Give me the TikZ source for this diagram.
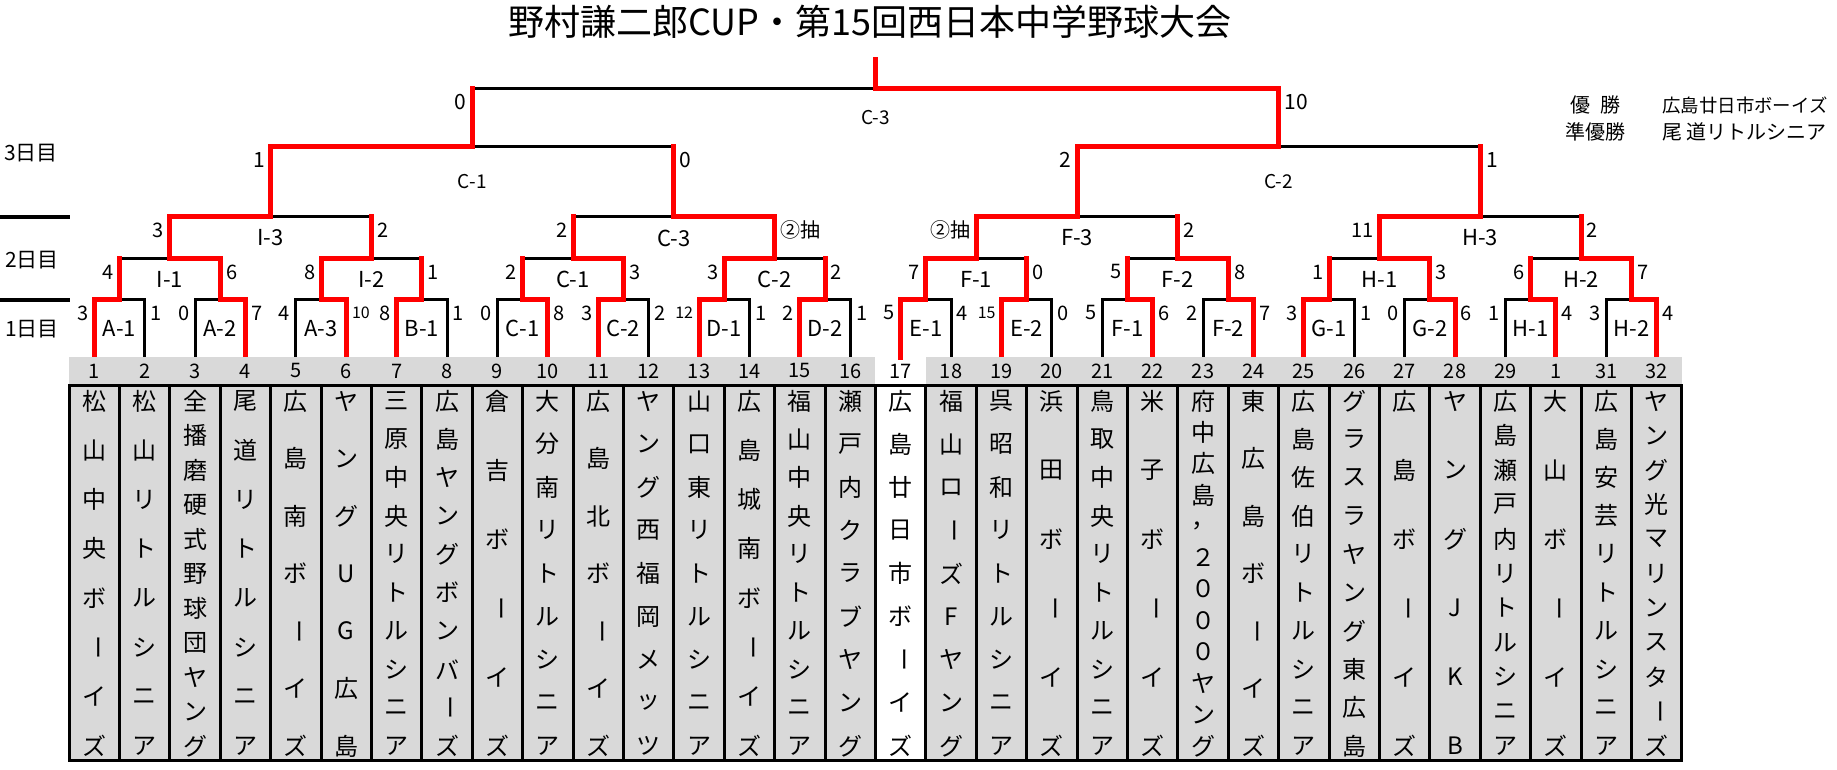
\documentclass[tikz,border=0pt]{standalone}
\usepackage{fontspec}
\setmainfont{Noto Sans CJK JP}
\usepackage{graphicx}
\definecolor{cell}{HTML}{D9D9D9}
\tikzset{font=\fontsize{10}{11}\selectfont}
\tikzset{every node/.append style={inner sep=0pt}}
\tikzset{won/.style={draw=red, line width=2.5pt, line cap=rect},
  lost/.style={draw=black, line width=1.5pt, line cap=rect},
  lsc/.style={anchor=east, shift={(-5.5,13)}},
  rsc/.style={anchor=west, shift={(5.5,13)}},
  tag/.style={font=\fontsize{11}{12}\selectfont},
  kana/.style={font=\fontsize{12}{12}\selectfont},
  num/.style={font=\fontsize{10}{11}\selectfont},
  day/.style={font=\fontsize{10.5}{11}\selectfont},
  fame/.style={font=\fontsize{10}{11}\selectfont},
  namebox/.style={draw=black, line width=1.5pt, fill=cell}}
\newcommand{\sm}[1]{{\fontsize{8}{8}\selectfont #1}}
\newcommand{\tp}[1]{{\fontsize{10.5}{11}\selectfont #1}}
\newcommand{\tq}[1]{{\fontsize{9.5}{10}\selectfont #1}}
\newcommand{\cho}{\rotatebox[origin=c]{-90}{ー}}
\newcommand{\spot}[4]{\pgfmathsetmacro\sx{43.8+25.2*(#2+#3)}\coordinate (#1) at (\sx,#4);}
% left side wins
\newcommand{\boutL}[8]{%
  \draw[lost] (#2 |- #3) -- (#3);
  \draw[#4] (#2) -- (#2 |- #3);
  \draw[won] (#1) |- (#3);
  \node[lsc] (#3l) at (#1 |- #3) {#5};
  \node[rsc] (#3r) at (#2 |- #3) {#6};
  \node[tag, shift={(0,#8)}] (#3n) at (#3) {#7};}
% right side wins
\newcommand{\boutR}[8]{%
  \draw[lost] (#1 |- #3) -- (#3);
  \draw[#4] (#1) -- (#1 |- #3);
  \draw[won] (#2) |- (#3);
  \node[lsc] (#3l) at (#1 |- #3) {#5};
  \node[rsc] (#3r) at (#2 |- #3) {#6};
  \node[tag, shift={(0,#8)}] (#3n) at (#3) {#7};}
\newcommand{\tate}[2]{%
  \def\nch{0}%
  \foreach \kc in {#2} {\pgfmathtruncatemacro\nch{\nch+1}\global\let\nch\nch}%
  \foreach \kc [count=\k] in {#2} {%
    \pgfmathsetmacro\cy{401+(\k-1)*345/(\nch-1)}%
    \node[kana] (n#1c\k) at (t#1 |- 0,\cy) {\kc};}}

\begin{document}
\begin{tikzpicture}[x=0.5pt, y=-0.5pt]
\useasboundingbox (0,0) rectangle (1837,770);
\node[font=\fontsize{18}{18}\selectfont] (title) at (870,22) {野村謙二郎CUP・第15回西日本中学野球大会};
\foreach \i in {1,...,32} {\pgfmathsetmacro\tx{43.8+50.4*\i}\coordinate (t\i) at (\tx,357);}
\foreach \k in {1,...,16} {\pgfmathtruncatemacro\a{2*\k-1}\pgfmathtruncatemacro\b{2*\k}\spot{p\k}{\a}{\b}{300}}
\foreach \k in {1,...,8} {\pgfmathtruncatemacro\a{4*\k-3}\pgfmathtruncatemacro\b{4*\k}\spot{q\k}{\a}{\b}{259}}
\foreach \k in {1,...,4} {\pgfmathtruncatemacro\a{8*\k-7}\pgfmathtruncatemacro\b{8*\k}\spot{u\k}{\a}{\b}{217}}
\spot{s1}{1}{16}{147}
\spot{s2}{17}{32}{147}
\spot{fin}{1}{32}{89}
\spot{top}{1}{32}{60}
% 1日目
\boutL{t1}{t2}{p1}{lost}{3}{1}{A-1}{28.5}
\boutR{t3}{t4}{p2}{lost}{0}{7}{A-2}{28.5}
\boutR{t5}{t6}{p3}{lost}{4}{\sm{10}}{A-3}{28.5}
\boutL{t7}{t8}{p4}{lost}{8}{1}{B-1}{28.5}
\boutR{t9}{t10}{p5}{lost}{0}{8}{C-1}{28.5}
\boutL{t11}{t12}{p6}{lost}{3}{2}{C-2}{28.5}
\boutL{t13}{t14}{p7}{lost}{\sm{12}}{1}{D-1}{28.5}
\boutL{t15}{t16}{p8}{lost}{2}{1}{D-2}{28.5}
\boutL{t17}{t18}{p9}{lost}{5}{4}{E-1}{28.5}
\boutL{t19}{t20}{p10}{lost}{\sm{15}}{0}{E-2}{28.5}
\boutR{t21}{t22}{p11}{lost}{5}{6}{F-1}{28.5}
\boutR{t23}{t24}{p12}{lost}{2}{7}{F-2}{28.5}
\boutL{t25}{t26}{p13}{lost}{3}{1}{G-1}{28.5}
\boutR{t27}{t28}{p14}{lost}{0}{6}{G-2}{28.5}
\boutR{t29}{t30}{p15}{lost}{1}{4}{H-1}{28.5}
\boutR{t31}{t32}{p16}{lost}{3}{4}{H-2}{28.5}
% 2日目
\boutR{p1}{p2}{q1}{won}{4}{6}{I-1}{20.5}
\boutL{p3}{p4}{q2}{won}{8}{1}{I-2}{20.5}
\boutR{p5}{p6}{q3}{won}{2}{3}{C-1}{20.5}
\boutL{p7}{p8}{q4}{won}{3}{2}{C-2}{20.5}
\boutL{p9}{p10}{q5}{won}{7}{0}{F-1}{20.5}
\boutR{p11}{p12}{q6}{won}{5}{8}{F-2}{20.5}
\boutR{p13}{p14}{q7}{won}{1}{3}{H-1}{20.5}
\boutR{p15}{p16}{q8}{won}{6}{7}{H-2}{20.5}
\boutL{q1}{q2}{u1}{won}{3}{2}{I-3}{21}
\boutR{q3}{q4}{u2}{won}{2}{②抽}{C-3}{21}
\boutL{q5}{q6}{u3}{won}{②抽}{2}{F-3}{21}
\boutL{q7}{q8}{u4}{won}{11}{2}{H-3}{21}
% 3日目
\boutL{u1}{u2}{s1}{won}{\tp{1}}{\tp{0}}{\tq{C-1}}{35}
\boutL{u3}{u4}{s2}{won}{\tp{2}}{\tp{1}}{\tq{C-2}}{35}
\boutR{s1}{s2}{fin}{won}{\tp{0}}{\tp{10}}{\tq{C-3}}{28.5}
\draw[won] (fin) -- (top);
\node[fame] (yu) at (1595,105) {優\hspace{5pt}勝};
\node[fame] (jun) at (1595,132) {準優勝};
\node[fame, anchor=west, font=\fontsize{9.2}{10}\selectfont] (champ) at (1662,105) {広島廿日市ボーイズ};
\node[fame, anchor=west] (runner) at (1662,132) {尾\hspace{2pt}道リトルシニア};
\draw[line width=2pt] (0,217) -- (70,217);
\draw[line width=2pt] (0,300) -- (70,300);
\node[day] (d3) at (31,153) {3日目};
\node[day] (d2) at (32,260) {2日目};
\node[day] (d1) at (32,329) {1日目};
\fill[cell] (69,357) rectangle (875.4,385);
\fill[cell] (925.8,357) rectangle (1681.8,385);
\foreach \i in {1,...,32} {\pgfmathsetmacro\bx{69+50.4*(\i-1)}
  \ifnum\i=17 \draw[namebox, fill=white] (\bx,385) rectangle ++(50.4,375);
  \else \draw[namebox] (\bx,385) rectangle ++(50.4,375); \fi
  \node[num] (k\i) at (t\i |- 0,371) {\ifnum\i=30 1\else\i\fi};}
\tate{1}{松,山,中,央,ボ,\cho,イ,ズ}
\tate{2}{松,山,リ,ト,ル,シ,ニ,ア}
\tate{3}{全,播,磨,硬,式,野,球,団,ヤ,ン,グ}
\tate{4}{尾,道,リ,ト,ル,シ,ニ,ア}
\tate{5}{広,島,南,ボ,\cho,イ,ズ}
\tate{6}{ヤ,ン,グ,U,G,広,島}
\tate{7}{三,原,中,央,リ,ト,ル,シ,ニ,ア}
\tate{8}{広,島,ヤ,ン,グ,ボ,ン,バ,\cho,ズ}
\tate{9}{倉,吉,ボ,\cho,イ,ズ}
\tate{10}{大,分,南,リ,ト,ル,シ,ニ,ア}
\tate{11}{広,島,北,ボ,\cho,イ,ズ}
\tate{12}{ヤ,ン,グ,西,福,岡,メ,ッ,ツ}
\tate{13}{山,口,東,リ,ト,ル,シ,ニ,ア}
\tate{14}{広,島,城,南,ボ,\cho,イ,ズ}
\tate{15}{福,山,中,央,リ,ト,ル,シ,ニ,ア}
\tate{16}{瀬,戸,内,ク,ラ,ブ,ヤ,ン,グ}
\tate{17}{広,島,廿,日,市,ボ,\cho,イ,ズ}
\tate{18}{福,山,ロ,\cho,ズ,F,ヤ,ン,グ}
\tate{19}{呉,昭,和,リ,ト,ル,シ,ニ,ア}
\tate{20}{浜,田,ボ,\cho,イ,ズ}
\tate{21}{鳥,取,中,央,リ,ト,ル,シ,ニ,ア}
\tate{22}{米,子,ボ,\cho,イ,ズ}
\tate{23}{府,中,広,島,，,２,０,０,０,ヤ,ン,グ}
\tate{24}{東,広,島,ボ,\cho,イ,ズ}
\tate{25}{広,島,佐,伯,リ,ト,ル,シ,ニ,ア}
\tate{26}{グ,ラ,ス,ラ,ヤ,ン,グ,東,広,島}
\tate{27}{広,島,ボ,\cho,イ,ズ}
\tate{28}{ヤ,ン,グ,J,K,B}
\tate{29}{広,島,瀬,戸,内,リ,ト,ル,シ,ニ,ア}
\tate{30}{大,山,ボ,\cho,イ,ズ}
\tate{31}{広,島,安,芸,リ,ト,ル,シ,ニ,ア}
\tate{32}{ヤ,ン,グ,光,マ,リ,ン,ス,タ,\cho,ズ}
\end{tikzpicture}
\end{document}
